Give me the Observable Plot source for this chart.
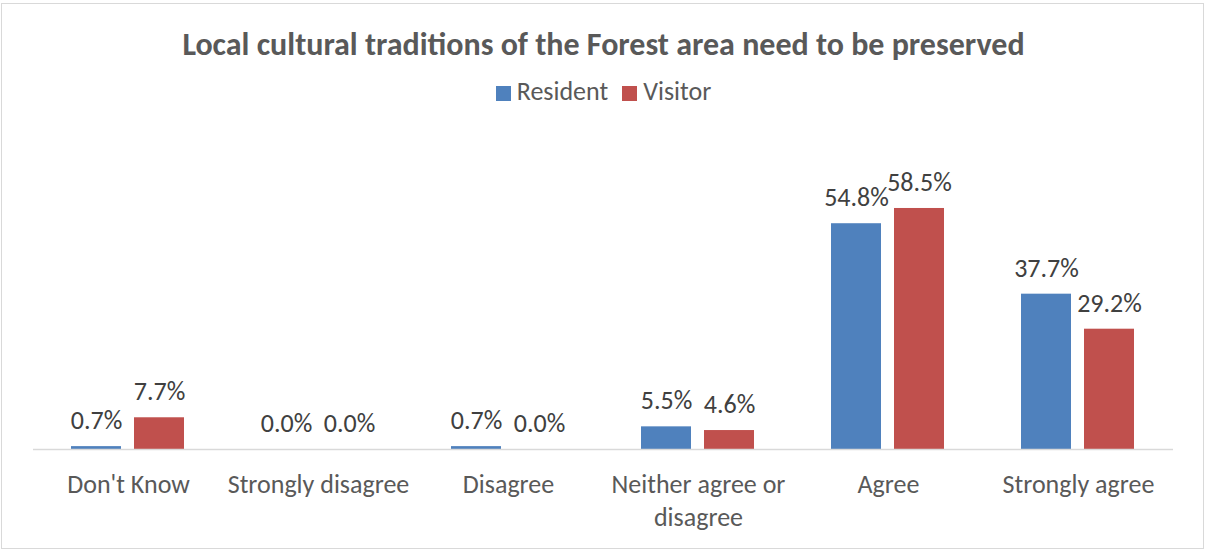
<!DOCTYPE html>
<html><head><meta charset="utf-8">
<script src="https://cdn.jsdelivr.net/npm/d3@7"></script>
<script src="https://cdn.jsdelivr.net/npm/@observablehq/plot@0.6"></script>
<style>
body{margin:0;background:#fff;font-family:Carlito,Calibri,sans-serif;}
#frame{position:absolute;left:1px;top:3px;width:1201px;height:544px;border:1px solid #d9d9d9;}
#title{position:absolute;left:0;top:26px;width:1207px;text-align:center;font-weight:bold;font-size:32px;line-height:38px;color:#595959;}
#legend{position:absolute;left:0;top:75px;width:1207px;text-align:center;font-size:26px;line-height:32px;color:#595959;}
#legend span.sw{display:inline-block;width:15px;height:15px;margin-right:6px;vertical-align:-1px;}
#legend span.it{margin:0 7px;}
#chart{position:absolute;left:0;top:0;}
</style></head>
<body>
<div id="frame"></div>
<div id="chart"></div>
<div id="title">Local cultural traditions of the Forest area need to be preserved</div>
<div id="legend"></div>
<script>
const categories = ["Don't Know","Strongly disagree","Disagree","Neither agree or disagree","Agree","Strongly agree"];
const tickLabels = ["Don't Know","Strongly disagree","Disagree","Neither agree or\ndisagree","Agree","Strongly agree"];
const series = ["Resident","Visitor"];
const resident = [0.7,0.0,0.7,5.5,54.8,37.7];
const visitor = [7.7,0.0,0.0,4.6,58.5,29.2];
const colors = ["#4F81BD","#C0504D"];

const data = [];
categories.forEach((c,i)=>{
  data.push({cat:c, series:"Resident", value:resident[i]});
  data.push({cat:c, series:"Visitor", value:visitor[i]});
});

const leg = document.getElementById("legend");
leg.innerHTML = series.map((s,i)=>`<span class="it"><span class="sw" style="background:${colors[i]}"></span>${s}</span>`).join("");

const H = 552, base = 449, plotTop = 449 - 70*4.12;
const chart = Plot.plot({
  width:1207, height:H,
  marginLeft:31, marginRight:32, marginTop:plotTop, marginBottom:H-base,
  style:{fontFamily:"Carlito, Calibri, sans-serif", background:"transparent"},
  fx:{domain:categories, padding:0, label:null, axis:null},
  x:{domain:series, paddingInner:0.203, paddingOuter:0.591, axis:null},
  y:{domain:[0,70], axis:null},
  color:{domain:series, range:colors},
  marks:[
    Plot.barY(data,{fx:"cat", x:"series", y:"value", fill:"series"}),
    Plot.ruleY([0],{stroke:"#d9d9d9", strokeWidth:1.5}),
    Plot.text(data,{fx:"cat", x:"series", y:"value", text:d=>d.value.toFixed(1)+"%", dy:-26, fontSize:26, fill:"#404040"}),
    Plot.axisFx({anchor:"bottom", tickSize:0, tickPadding:19, fontSize:26, fill:"#595959", lineHeight:1.3, tickFormat:d=>tickLabels[categories.indexOf(d)], label:null})
  ]
});
document.getElementById("chart").appendChild(chart);
</script>
</body></html>
